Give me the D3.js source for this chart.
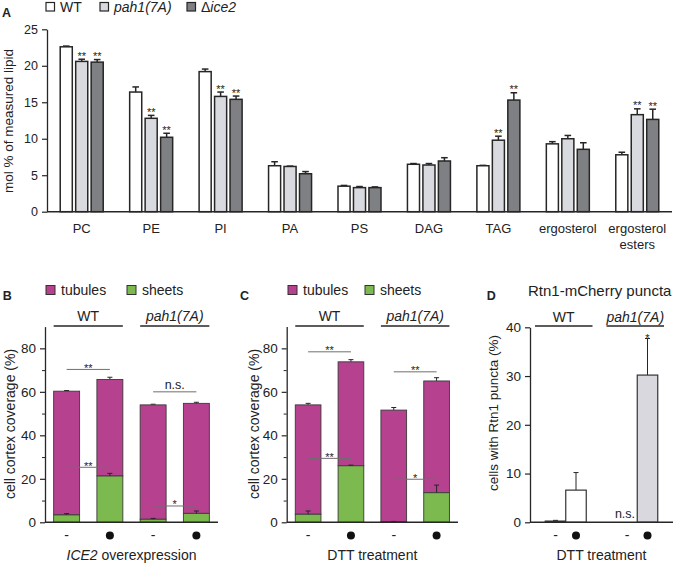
<!DOCTYPE html>
<html><head><meta charset="utf-8">
<script src="https://cdn.jsdelivr.net/npm/d3@7"></script>
<style>
body{margin:0;background:#fff}
svg{display:block}
text{font-family:"Liberation Sans",Arial,Helvetica,sans-serif;fill:#222}
</style>
</head><body>
<svg id="c" width="675" height="565"></svg>
<script>
// ---------------- DATA ----------------
// Panel A
const lipidCats = ["PC","PE","PI","PA","PS","DAG","TAG","ergosterol","ergosterol esters"];
const strainsA = ["WT","pah1(7A)","Δice2"];
const wtMol  = [22.6,16.4,19.2,6.3,3.5,6.5,6.3,9.3,7.8];
const wtErr  = [0.1,0.7,0.35,0.55,0.1,0.1,0.05,0.3,0.35];
const pahMol = [20.6,12.8,15.8,6.2,3.3,6.4,9.8,10.0,13.3];
const pahErr = [0.3,0.4,0.6,0.05,0.15,0.2,0.55,0.45,0.8];
const iceMol = [20.5,10.2,15.4,5.2,3.3,6.95,15.3,8.55,12.65];
const iceErr = [0.35,0.55,0.45,0.3,0.1,0.45,1.0,0.9,1.4];
const wtStars  = ["","","","","","","","",""];
const pahStars = ["**","**","**","","","","**","","**"];
const iceStars = ["**","**","**","","","","**","","**"];
const yTicksA = [0,5,10,15,20,25];

// Panels B & C (stacked: sheets + tubules = total coverage)
const genotypes = ["WT","pah1(7A)"];
const conditions = ["WT-","WT+","pah1-","pah1+"];
const condMarks = ["-","●","-","●"];
const bTotal = [60.3,65.7,54.0,54.7];
const bTotalErr = [0.3,1.0,0.3,0.5];
const bSheets = [3.4,21.3,1.4,4.1];
const bSheetsErr = [0.6,1.2,0.4,1.1];
const bSig = [[0,1,70.3,"**"],[2,3,60.0,"n.s."],[0,1,25.3,"**"],[2,3,7.5,"*"]];

const cTotal = [54.0,73.8,51.6,65.0];
const cTotalErr = [0.7,1.0,1.2,1.5];
const cSheets = [3.7,26.0,0.3,13.6];
const cSheetsErr = [1.5,0.3,0.1,3.5];
const cSig = [[0,1,78.4,"**"],[2,3,69.2,"**"],[0,1,29.4,"**"],[2,3,19.8,"*"]];

const yTicksBC = [0,20,40,60,80];
const yMinorBC = [10,30,50,70];

// Panel D
const treatD = ["-","●"];
const dWT = [0.25,6.6];
const dWTErr = [0.15,3.6];
const dPah = [0,30.2];
const dPahErr = [0,7.5];
const yTicksD = [0,10,20,30,40];

// ---------------- STYLE ----------------
const INK = "#262626";
const colA = ["#ffffff","#d9dadf","#7e8083"];
const PINK = "#b5418f", GREEN = "#7cb94f", LGRAY = "#d8d8de";

const svg = d3.select("#c");

function yAxis(g, y, ticks, minor, fs){
  const ax = g.append("g").call(d3.axisLeft(y).tickValues(ticks).tickSize(5).tickSizeOuter(0).tickPadding(4).tickFormat(d3.format("d")));
  ax.select(".domain").attr("stroke",INK).attr("stroke-width",1.3);
  ax.selectAll(".tick line").attr("stroke",INK).attr("stroke-width",1.2);
  ax.selectAll(".tick text").attr("font-size",fs).attr("fill","#222").attr("font-family",'"Liberation Sans",Arial,sans-serif');
  if(minor){
    const mx = g.append("g").call(d3.axisLeft(y).tickValues(minor).tickSize(3).tickFormat(""));
    mx.select(".domain").remove();
    mx.selectAll(".tick line").attr("stroke",INK).attr("stroke-width",1);
  }
}
function xLine(g, x0, x1, yy){
  g.append("line").attr("x1",x0).attr("x2",x1).attr("y1",yy).attr("y2",yy).attr("stroke",INK).attr("stroke-width",1.4);
}
function errBar(g, cx, y0, y1, cap, sw){
  g.append("line").attr("x1",cx).attr("x2",cx).attr("y1",y0).attr("y2",y1).attr("stroke",INK).attr("stroke-width",sw);
  g.append("line").attr("x1",cx-cap).attr("x2",cx+cap).attr("y1",y1).attr("y2",y1).attr("stroke",INK).attr("stroke-width",sw);
}
function letter(t,x,y){
  svg.append("text").attr("x",x).attr("y",y).attr("font-weight","bold").attr("font-size",12.5).text(t);
}

// ---------------- PANEL A ----------------
{
  const g = svg.append("g");
  const xA = d3.scaleBand().domain(lipidCats).range([47,672]);
  const xIn = d3.scaleBand().domain(strainsA).range([xA.bandwidth()/2-21.5, xA.bandwidth()/2+21.5]).paddingInner(0.22);
  const yA = d3.scaleLinear().domain([0,25]).range([211.7,29.3]);
  const series = [
    {name:strainsA[0], v:wtMol, e:wtErr, s:wtStars, c:colA[0]},
    {name:strainsA[1], v:pahMol, e:pahErr, s:pahStars, c:colA[1]},
    {name:strainsA[2], v:iceMol, e:iceErr, s:iceStars, c:colA[2]}
  ];
  series.forEach(se=>{
    lipidCats.forEach((cat,i)=>{
      const x = xA(cat)+xIn(se.name), w = xIn.bandwidth(), cx = x+w/2;
      errBar(g, cx, yA(se.v[i]), yA(se.v[i]+se.e[i]), 3.3, 1.5);
      g.append("rect").attr("x",x).attr("y",yA(se.v[i])).attr("width",w).attr("height",yA(0)-yA(se.v[i]))
        .attr("fill",se.c).attr("stroke",INK).attr("stroke-width",1.5);
      if(se.s[i]) g.append("text").attr("x",cx).attr("y",yA(se.v[i]+se.e[i])+0.5).attr("text-anchor","middle")
        .attr("font-size",11).attr("fill","#444").text(se.s[i]);
    });
  });
  yAxis(g.append("g").attr("transform","translate(47,0)"), yA, yTicksA, null, 12.5);
  xLine(g, 47, 672, yA(0));
  lipidCats.forEach(cat=>{
    const cx = xA(cat)+xA.bandwidth()/2;
    const parts = cat==="ergosterol esters" ? ["ergosterol","esters"] : [cat];
    parts.forEach((p,k)=> g.append("text").attr("x",cx).attr("y",233+k*16).attr("text-anchor","middle").attr("font-size",13).text(p));
  });
  g.append("text").attr("transform","translate(13,121) rotate(-90)").attr("text-anchor","middle").attr("font-size",13.5).text("mol % of measured lipid");
  // legend
  const lx = [46,100,187];
  strainsA.forEach((s,i)=>{
    g.append("rect").attr("x",lx[i]).attr("y",2.5).attr("width",8.5).attr("height",8.5).attr("fill",colA[i]).attr("stroke",INK).attr("stroke-width",1.2);
    const t = g.append("text").attr("x",lx[i]+14).attr("y",12).attr("font-size",14);
    if(i===0) t.text(s);
    else if(i===1) t.attr("font-style","italic").text(s);
    else { t.append("tspan").text("Δ"); t.append("tspan").attr("font-style","italic").text(s.slice(1)); }
  });
  letter("A",2,17);
}

// ---------------- PANELS B, C ----------------
const yBC = d3.scaleLinear().domain([0,90]).range([522.3,326.6]);
function panelBC(o){
  const g = svg.append("g");
  const x = d3.scaleBand().domain(conditions).range([o.x0,o.x1]).paddingInner(0.4).paddingOuter(0.2);
  const bw = x.bandwidth();
  conditions.forEach((c,i)=>{
    const xl = x(c), cx = xl+bw/2;
    errBar(g, cx, yBC(o.tot[i]), yBC(o.tot[i]+o.totE[i]), 2.5, 1);
    g.append("rect").attr("x",xl).attr("y",yBC(o.tot[i])).attr("width",bw).attr("height",yBC(o.sh[i])-yBC(o.tot[i]))
      .attr("fill",PINK).attr("stroke","#3a3a3a").attr("stroke-width",0.9);
    g.append("rect").attr("x",xl).attr("y",yBC(o.sh[i])).attr("width",bw).attr("height",yBC(0)-yBC(o.sh[i]))
      .attr("fill",GREEN).attr("stroke","#3a3a3a").attr("stroke-width",0.9);
    errBar(g, cx, yBC(o.sh[i]), yBC(o.sh[i]+o.shE[i]), 2.5, 1);
    // x marks
    if(condMarks[i]==="●") g.append("circle").attr("cx",cx).attr("cy",535.6).attr("r",4).attr("fill","#111");
    else g.append("text").attr("x",cx).attr("y",540).attr("text-anchor","middle").attr("font-size",14).text("-");
  });
  // significance
  o.sig.forEach(s=>{
    const xa = x(conditions[s[0]])+bw/2, xb = x(conditions[s[1]])+bw/2, yy = yBC(s[2]);
    g.append("line").attr("x1",xa).attr("x2",xb).attr("y1",yy).attr("y2",yy).attr("stroke","#6f6f6f").attr("stroke-width",1);
    const ns = s[3]==="n.s.";
    g.append("text").attr("x",(xa+xb)/2).attr("y", ns ? yy-2.5 : yy+2.5).attr("text-anchor","middle")
      .attr("font-size", ns?12.5:11).attr("fill","#444").text(s[3]);
  });
  // genotype lines
  genotypes.forEach((gt,k)=>{
    const a = x(conditions[2*k]), b = x(conditions[2*k+1])+bw;
    g.append("line").attr("x1",a).attr("x2",b).attr("y1",326).attr("y2",326).attr("stroke",INK).attr("stroke-width",1.3);
    g.append("text").attr("x",(a+b)/2).attr("y",320.7).attr("text-anchor","middle").attr("font-size",14)
      .attr("font-style", k===1?"italic":"normal").text(gt);
  });
  yAxis(g.append("g").attr("transform",`translate(${o.x0},0)`), yBC, yTicksBC, yMinorBC, 13.5);
  xLine(g, o.x0, o.x1, yBC(0));
  g.append("text").attr("transform",`translate(${o.ylabX},424) rotate(-90)`).attr("text-anchor","middle").attr("font-size",14).text("cell cortex coverage (%)");
  const xt = g.append("text").attr("x",(o.x0+o.x1)/2).attr("y",560).attr("text-anchor","middle").attr("font-size",14);
  o.xlab(xt);
  // legend
  [["tubules",PINK],["sheets",GREEN]].forEach((l,k)=>{
    g.append("rect").attr("x",o.leg[k]).attr("y",285.5).attr("width",9).attr("height",9).attr("fill",l[1]).attr("stroke","#333").attr("stroke-width",1);
    g.append("text").attr("x",o.leg[k]+15).attr("y",294.5).attr("font-size",14).text(l[0]);
  });
}
panelBC({x0:45,x1:218,tot:bTotal,totE:bTotalErr,sh:bSheets,shE:bSheetsErr,sig:bSig,ylabX:15,leg:[46,127],
  xlab:t=>{t.append("tspan").attr("font-style","italic").text("ICE2"); t.append("tspan").text(" overexpression");}});
panelBC({x0:286.7,x1:458,tot:cTotal,totE:cTotalErr,sh:cSheets,shE:cSheetsErr,sig:cSig,ylabX:259,leg:[288,365],
  xlab:t=>t.text("DTT treatment")});
letter("B",2.7,299.5);
letter("C",240,299.5);

// ---------------- PANEL D ----------------
{
  const g = svg.append("g");
  const x0 = 530, x1 = 673;
  const xD = d3.scaleBand().domain(genotypes).range([x0,x1]);
  const xIn = d3.scaleBand().domain(treatD).range([xD.bandwidth()/2-20.5, xD.bandwidth()/2+20.5]);
  const yD = d3.scaleLinear().domain([0,40]).range([522.3,327.3]);
  const data = [{gt:genotypes[0], v:dWT, e:dWTErr, c:"#ffffff"},{gt:genotypes[1], v:dPah, e:dPahErr, c:LGRAY}];
  data.forEach((d,k)=>{
    treatD.forEach((t,i)=>{
      const xl = xD(d.gt)+xIn(t), w = xIn.bandwidth(), cx = xl+w/2;
      if(d.v[i]>0){
        errBar(g, cx, yD(d.v[i]), yD(d.v[i]+d.e[i]), 2.5, 1);
        g.append("rect").attr("x",xl).attr("y",yD(d.v[i])).attr("width",w).attr("height",yD(0)-yD(d.v[i]))
          .attr("fill",d.c).attr("stroke","#333").attr("stroke-width",1.2);
      }
      if(t==="●") g.append("circle").attr("cx",cx).attr("cy",535.6).attr("r",4).attr("fill","#111");
      else g.append("text").attr("x",cx).attr("y",540).attr("text-anchor","middle").attr("font-size",14).text("-");
    });
    const a = xD(d.gt)+5, b = xD(d.gt)+xD.bandwidth()-9;
    g.append("line").attr("x1",a).attr("x2",b).attr("y1",326).attr("y2",326).attr("stroke",INK).attr("stroke-width",1.3);
    g.append("text").attr("x",(a+b)/2).attr("y",321.7).attr("text-anchor","middle").attr("font-size",14)
      .attr("font-style",k===1?"italic":"normal").text(d.gt);
  });
  // significance labels
  const xns = xD(genotypes[1])+xIn(treatD[0])+xIn.bandwidth()/2;
  g.append("text").attr("x",xns-2).attr("y",yD(0)-4).attr("text-anchor","middle").attr("font-size",12.5).attr("fill","#444").text("n.s.");
  const xst = xD(genotypes[1])+xIn(treatD[1])+xIn.bandwidth()/2;
  g.append("text").attr("x",xst).attr("y",yD(dPah[1]+dPahErr[1])+3).attr("text-anchor","middle").attr("font-size",11).attr("fill","#444").text("*");
  yAxis(g.append("g").attr("transform",`translate(${x0},0)`), yD, yTicksD, null, 13.5);
  xLine(g, x0, x1, yD(0));
  g.append("text").attr("transform","translate(498,413) rotate(-90)").attr("text-anchor","middle").attr("font-size",13.5).text("cells with Rtn1 puncta (%)");
  g.append("text").attr("x",(x0+x1)/2).attr("y",560).attr("text-anchor","middle").attr("font-size",14).text("DTT treatment");
  g.append("text").attr("x",528).attr("y",296).attr("font-size",15).text("Rtn1-mCherry puncta");
  letter("D",486.7,299.5);
}
</script>
</body></html>
